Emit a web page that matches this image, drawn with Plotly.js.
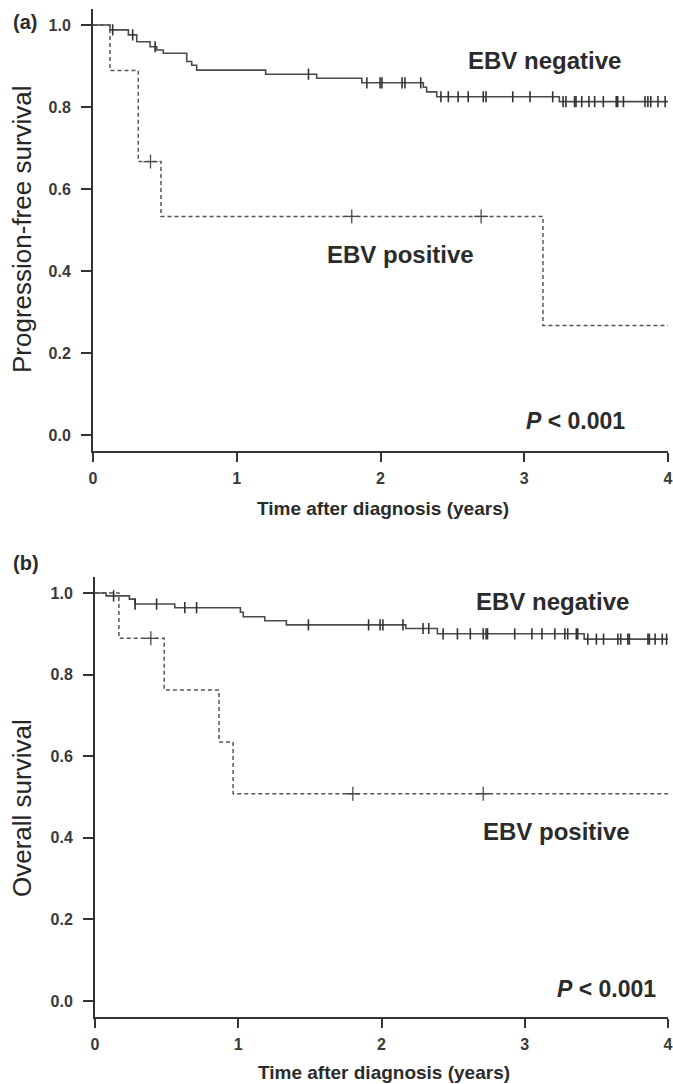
<!DOCTYPE html>
<html>
<head>
<meta charset="utf-8">
<script src="https://cdn.plot.ly/plotly-3.0.1.min.js"></script>
<style>html,body{margin:0;padding:0;background:#fff;}#chart{width:673px;height:1084px;}</style>
</head>
<body>
<div id="chart"></div>
<script>
// ---- data ----
const xTickVals = [0, 1, 2, 3, 4];
const xTickText = ['0', '1', '2', '3', '4'];
const yTickVals = [0, 0.2, 0.4, 0.6, 0.8, 1.0];
const yTickText = ['0.0', '0.2', '0.4', '0.6', '0.8', '1.0'];
const followUpEnd = 4;

// (a) Progression-free survival
const pfsNegTimes = [0, 0.118, 0.246, 0.304, 0.397, 0.443, 0.489, 0.652, 0.687, 0.721, 1.201, 1.556, 1.870, 2.298, 2.321, 2.391, 3.244];
const pfsNegSurv  = [1.0, 0.988, 0.976, 0.959, 0.947, 0.939, 0.931, 0.911, 0.902, 0.890, 0.880, 0.870, 0.859, 0.848, 0.837, 0.825, 0.813];
const pfsNegCensor = [0.137, 0.276, 0.432, 1.499, 1.905, 1.997, 2.01, 2.15, 2.17, 2.28, 2.42, 2.472, 2.54, 2.61, 2.715, 2.734, 2.92, 3.04, 3.198, 3.27, 3.29, 3.35, 3.36, 3.40, 3.45, 3.49, 3.55, 3.64, 3.65, 3.69, 3.84, 3.86, 3.88, 3.93, 3.98];
const pfsPosTimes = [0, 0.118, 0.315, 0.473, 3.13];
const pfsPosSurv  = [1.0, 0.889, 0.667, 0.533, 0.267];
const pfsPosCensor = [0.40, 1.80, 2.70];

// (b) Overall survival
const osNegTimes = [0, 0.077, 0.24, 0.28, 0.557, 1.015, 1.035, 1.185, 1.336, 2.17, 2.39, 3.415];
const osNegSurv  = [1.0, 0.993, 0.985, 0.973, 0.964, 0.953, 0.942, 0.932, 0.922, 0.913, 0.900, 0.887];
const osNegCensor = [0.13, 0.28, 0.43, 0.627, 0.709, 1.49, 1.91, 1.99, 2.01, 2.15, 2.29, 2.33, 2.43, 2.53, 2.62, 2.71, 2.73, 2.74, 2.93, 3.05, 3.12, 3.21, 3.28, 3.30, 3.36, 3.37, 3.44, 3.50, 3.55, 3.65, 3.67, 3.72, 3.73, 3.86, 3.87, 3.91, 3.96, 3.99];
const osPosTimes = [0, 0.167, 0.483, 0.866, 0.964];
const osPosSurv  = [1.0, 0.889, 0.762, 0.635, 0.508];
const osPosCensor = [0.39, 1.80, 2.71];

const groupNames = ['EBV negative', 'EBV positive'];
const yTitles = ['Progression-free survival', 'Overall survival'];
const xTitle = 'Time after diagnosis (years)';
const panelLabels = ['(a)', '(b)'];
const pText = '<i>P</i> < 0.001';

// ---- helpers ----
const W = 673, H = 1084;
const PX = x => x / W;
const PY = y => 1 - y / H;

function levelAt(times, surv, t) {
  let v = surv[0];
  for (let i = 0; i < times.length; i++) if (times[i] <= t) v = surv[i];
  return v;
}
function stepTrace(times, surv, xa, ya, dashed) {
  return {
    x: times.concat([followUpEnd]), y: surv.concat([surv[surv.length - 1]]),
    xaxis: xa, yaxis: ya, type: 'scatter', mode: 'lines', cliponaxis: false,
    line: {shape: 'hv', color: dashed ? '#555' : '#4a4a4a', width: dashed ? 1.5 : 1.6, dash: dashed ? '4px,3px' : 'solid'},
    hoverinfo: 'skip'
  };
}
function censorTrace(times, surv, cens, xa, ya, dashed) {
  return {
    x: cens, y: cens.map(t => levelAt(times, surv, t)),
    xaxis: xa, yaxis: ya, type: 'scatter', mode: 'markers',
    marker: dashed
      ? {symbol: 'cross-thin', size: 10, line: {width: 1.3, color: '#4a4a4a'}, color: '#4a4a4a'}
      : {symbol: 'line-ns', size: 8, line: {width: 1.6, color: '#333'}, color: '#333'},
    hoverinfo: 'skip'
  };
}

const data = [
  stepTrace(pfsNegTimes, pfsNegSurv, 'x', 'y', false),
  censorTrace(pfsNegTimes, pfsNegSurv, pfsNegCensor, 'x', 'y', false),
  stepTrace(pfsPosTimes, pfsPosSurv, 'x', 'y', true),
  censorTrace(pfsPosTimes, pfsPosSurv, pfsPosCensor, 'x', 'y', true),
  stepTrace(osNegTimes, osNegSurv, 'x2', 'y2', false),
  censorTrace(osNegTimes, osNegSurv, osNegCensor, 'x2', 'y2', false),
  stepTrace(osPosTimes, osPosSurv, 'x2', 'y2', true),
  censorTrace(osPosTimes, osPosSurv, osPosCensor, 'x2', 'y2', true)
];

const tickFont = {family: 'Liberation Sans, Arial, sans-serif', size: 16, color: '#3a3a3a', weight: 'bold'};
function xAxis(domain, anchor) {
  return {domain: domain, anchor: anchor, range: [0, 4], tickvals: xTickVals, ticktext: xTickText,
    showgrid: false, zeroline: false, showline: true, linecolor: '#333', linewidth: 2,
    ticks: 'outside', ticklen: 9, tickwidth: 2, tickcolor: '#333', tickfont: tickFont, ticklabelstandoff: 2, fixedrange: true};
}
function yAxis(domain, anchor) {
  return {domain: domain, anchor: anchor, range: [-0.04, 1.04], tickvals: yTickVals, ticktext: yTickText,
    showgrid: false, zeroline: false, showline: true, linecolor: '#333', linewidth: 2,
    ticks: 'outside', ticklen: 10, tickwidth: 2, tickcolor: '#333', tickfont: tickFont, ticklabelstandoff: 7, fixedrange: true};
}

function ann(text, x, y, size, opts) {
  return Object.assign({text: text, xref: 'paper', yref: 'paper', x: PX(x), y: PY(y), xanchor: 'center', yanchor: 'middle',
    showarrow: false, font: {family: 'Liberation Sans, Arial, sans-serif', size: size, color: '#2b2b2b', weight: 'bold'}}, opts || {});
}
const titleFont = {family: 'Liberation Sans, Arial, sans-serif', size: 26, color: '#262626', weight: 'normal'};

const layout = {
  width: W, height: H, margin: {l: 0, r: 0, t: 0, b: 0},
  paper_bgcolor: '#fff', plot_bgcolor: '#fff', showlegend: false,
  xaxis: xAxis([93 / W, 668 / W], 'y'),
  yaxis: yAxis([PY(451.4), PY(8.6)], 'x'),
  xaxis2: xAxis([95 / W, 668 / W], 'y2'),
  yaxis2: yAxis([PY(1017.3), PY(576.7)], 'x2'),
  annotations: [
    ann(panelLabels[0], 25, 22, 20),
    ann(panelLabels[1], 26, 563, 20),
    ann(groupNames[0], 544, 60, 24),
    ann(groupNames[1], 400, 255, 24),
    ann(pText, 575, 421, 23),
    ann(groupNames[0], 552, 601, 24),
    ann(groupNames[1], 556, 831, 24),
    ann(pText, 606, 989, 23),
    ann(xTitle, 383, 508, 19),
    ann(xTitle, 384, 1072, 19),
    ann(yTitles[0], 22, 229, 26, {textangle: -90, font: titleFont}),
    ann(yTitles[1], 22, 808, 26, {textangle: -90, font: titleFont})
  ]
};

Plotly.newPlot('chart', data, layout, {displayModeBar: false, staticPlot: true});
</script>
</body>
</html>
